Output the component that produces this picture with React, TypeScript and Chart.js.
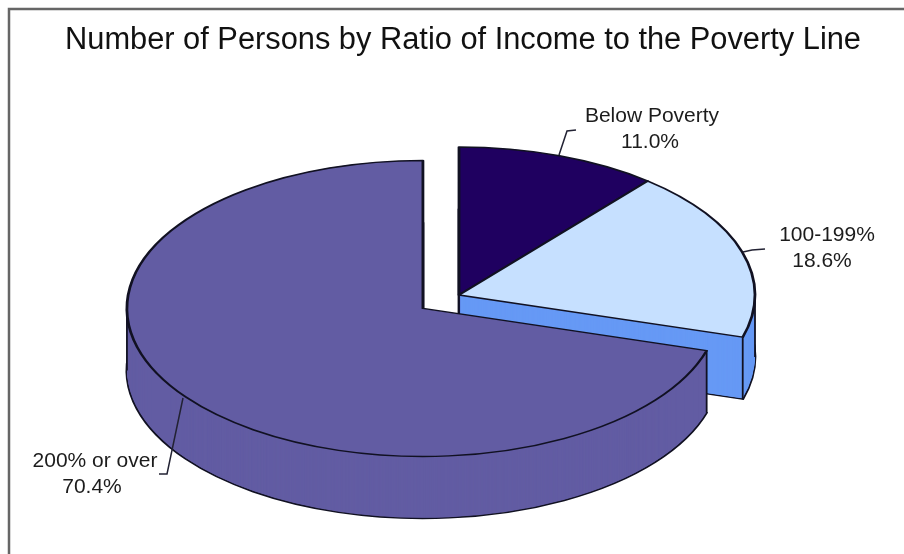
import React, { useEffect, useRef } from "react";
import { Chart, registerables } from "chart.js";

Chart.register(...registerables);

const titleText = "Number of Persons by Ratio of Income to the Poverty Line";
const categories = ["Below Poverty", "100-199%", "200% or over"];
const shares = [11.0, 18.6, 70.4];
const topColors = ["#1f0060", "#c6e0ff", "#625ca3"];
const sideColors = ["#1f0060", "#6699f5", "#625ca3"];
const explodeAmounts = [0, 0, 45];

const INK = "#111122";

function arcOptions(fill: string, borderWidth: number) {
  return {
    backgroundColor: fill,
    borderColor: INK,
    borderWidth,
    borderAlign: "center",
    borderJoinStyle: "round",
    borderRadius: 0,
    borderDash: [],
    borderDashOffset: 0,
    offset: 0,
    spacing: 0,
    circular: true,
    selfJoin: false,
  };
}

const pie3d = {
  id: "pie3d",
  beforeDatasetsDraw(chart: any) {
    const ctx = chart.ctx;
    const arcs = chart.getDatasetMeta(0).data;
    const cx = 459;
    const cy = 295;
    const squash = 0.5;
    const depth = 62;
    arcs.forEach((arc: any, i: number) => {
      const saved = arc.options;
      const mid = (arc.startAngle + arc.endAngle) / 2;
      const ex = Math.cos(mid) * explodeAmounts[i];
      const ey = Math.sin(mid) * explodeAmounts[i];
      const drawAt = (dy: number, opts: any) => {
        ctx.save();
        ctx.translate(cx, cy + dy);
        ctx.scale(1, squash);
        ctx.translate(ex - arc.x, ey - arc.y);
        arc.options = opts;
        arc.draw(ctx);
        ctx.restore();
      };
      drawAt(depth, arcOptions(sideColors[i], 2.8));
      for (let d = depth - 1; d > 0; d--) drawAt(d, arcOptions(sideColors[i], 0));

      // vertical silhouette edges of the side wall
      const edge = (angle: number, radius: number) => {
        const x = cx + ex + Math.cos(angle) * radius;
        const y = cy + (ey + Math.sin(angle) * radius) * squash;
        ctx.save();
        ctx.strokeStyle = INK;
        ctx.lineWidth = 1.8;
        ctx.beginPath();
        ctx.moveTo(x, y);
        ctx.lineTo(x, y + depth);
        ctx.stroke();
        ctx.restore();
      };
      if (i === 1) {
        edge(arc.startAngle, 0);
        edge(arc.endAngle, arc.outerRadius);
        edge(0, arc.outerRadius);
      }
      if (i === 2) {
        edge(arc.startAngle, arc.outerRadius);
        edge(Math.PI, arc.outerRadius);
      }
      drawAt(0, arcOptions(topColors[i], 2.8));
      arc.options = saved;
    });
    return false;
  },
  afterDraw(chart: any) {
    const ctx = chart.ctx;
    ctx.save();
    // frame
    ctx.strokeStyle = "#666666";
    ctx.lineWidth = 2.5;
    ctx.beginPath();
    ctx.moveTo(9, 554);
    ctx.lineTo(9, 9);
    ctx.lineTo(904, 9);
    ctx.stroke();

    // leader lines
    ctx.strokeStyle = "#222233";
    ctx.lineWidth = 1.5;
    const leaders = [
      [[559, 155], [567, 131], [576, 130]],
      [[743, 252], [752, 250], [765, 249]],
      [[183, 398], [167, 474], [159, 474]],
    ];
    leaders.forEach((pts) => {
      ctx.beginPath();
      pts.forEach(([x, y], k) => (k ? ctx.lineTo(x, y) : ctx.moveTo(x, y)));
      ctx.stroke();
    });

    // slice labels
    ctx.fillStyle = "#1c1c1c";
    ctx.font = '21px "Liberation Sans", Arial, sans-serif';
    ctx.textAlign = "center";
    ctx.textBaseline = "middle";
    const spots = [
      [652, 116, 650, 142],
      [827, 235, 822, 261],
      [95, 461, 92, 487],
    ];
    categories.forEach((name, i) => {
      const [x1, y1, x2, y2] = spots[i];
      ctx.fillText(name, x1, y1);
      ctx.fillText(shares[i].toFixed(1) + "%", x2, y2);
    });
    ctx.restore();
  },
};

export default function App() {
  const ref = useRef<HTMLCanvasElement | null>(null);
  useEffect(() => {
    document.body.style.margin = "0";
    document.body.style.background = "#ffffff";
    const chart = new Chart(ref.current as HTMLCanvasElement, {
      type: "pie",
      data: {
        labels: categories,
        datasets: [
          {
            data: shares,
            backgroundColor: topColors,
            borderColor: INK,
            borderWidth: 2,
            clip: false,
          } as any,
        ],
      },
      options: {
        responsive: false,
        animation: false,
        events: [],
        radius: 296,
        layout: { padding: { left: 22, top: 0, right: 0, bottom: 0 } },
        plugins: {
          legend: { display: false },
          tooltip: { enabled: false },
          title: {
            display: true,
            text: titleText,
            color: "#111111",
            font: { family: '"Liberation Sans", Arial, sans-serif', size: 30.8, weight: "normal" },
            padding: { top: 22, bottom: 10 },
          },
        },
      } as any,
      plugins: [pie3d as any],
    });
    return () => chart.destroy();
  }, []);
  return <canvas ref={ref} width={904} height={554} style={{ display: "block" }} />;
}
